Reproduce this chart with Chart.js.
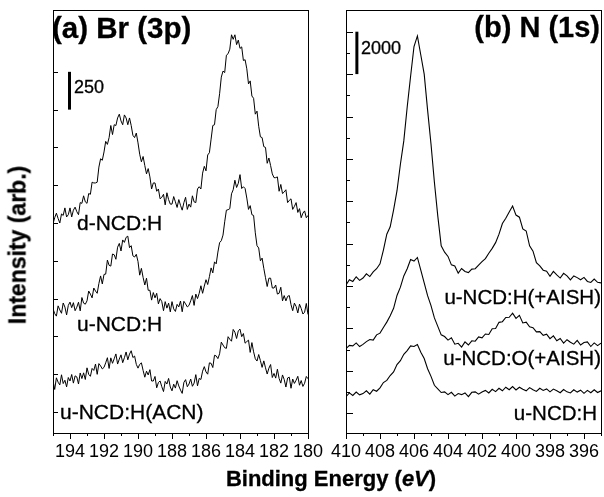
<!DOCTYPE html>
<html>
<head>
<meta charset="utf-8">
<script src="https://cdn.jsdelivr.net/npm/chart.js@4.4.1/dist/chart.umd.min.js"></script>
<style>
  html, body { margin: 0; padding: 0; background: #fff; }
  #wrap { position: relative; width: 604px; height: 497px; overflow: hidden;
          font-family: "Liberation Sans", Arial, sans-serif; color: #000; }
  canvas { position: absolute; top: 0; }
  #cA { left: 0; }
  #cB { left: 326px; }
  .lbl { position: absolute; white-space: nowrap; line-height: 1; -webkit-text-stroke: 0.3px #000; }
</style>
</head>
<body>
<div id="wrap">
  <canvas id="cA" width="326" height="497"></canvas>
  <canvas id="cB" width="278" height="497"></canvas>

  <div class="lbl" style="left:52px;top:13px;font-size:29.5px;font-weight:bold">(a) Br (3p)</div>
  <div class="lbl" style="right:4px;top:13px;font-size:29px;font-weight:bold">(b) N (1s)</div>
  <div class="lbl" style="left:74px;top:78px;font-size:18px">250</div>
  <div class="lbl" style="left:361px;top:39px;font-size:18px">2000</div>

  <div class="lbl" style="left:77px;top:212px;font-size:21px">d-NCD:H</div>
  <div class="lbl" style="left:77px;top:313px;font-size:21px">u-NCD:H</div>
  <div class="lbl" style="left:60px;top:401px;font-size:21px">u-NCD:H(ACN)</div>

  <div class="lbl" style="right:3px;top:287px;font-size:20.5px">u-NCD:H(+AISH)</div>
  <div class="lbl" style="right:3px;top:348px;font-size:20.5px">u-NCD:O(+AISH)</div>
  <div class="lbl" style="right:7px;top:403px;font-size:20.5px">u-NCD:H</div>

  <div class="lbl" style="left:331px;top:468px;font-size:22px;font-weight:bold;transform:translateX(-50%)">Binding Energy (<i>eV</i>)</div>
  <div class="lbl" style="left:18px;top:245px;font-size:23px;font-weight:bold;transform:translate(-50%,-50%) rotate(-90deg)">Intensity (arb.)</div>
</div>

<script>
/* Panel (a): Br 3p, binding energy grid (eV), 0.1 eV steps */
var energyA = [
  195,194.9,194.8,194.7,194.6,194.5,194.4,194.3,194.2,194.1,
  194,193.9,193.8,193.7,193.6,193.5,193.4,193.3,193.2,193.1,
  193,192.9,192.8,192.7,192.6,192.5,192.4,192.3,192.2,192.1,
  192,191.9,191.8,191.7,191.6,191.5,191.4,191.3,191.2,191.1,
  191,190.9,190.8,190.7,190.6,190.5,190.4,190.3,190.2,190.1,
  190,189.9,189.8,189.7,189.6,189.5,189.4,189.3,189.2,189.1,
  189,188.9,188.8,188.7,188.6,188.5,188.4,188.3,188.2,188.1,
  188,187.9,187.8,187.7,187.6,187.5,187.4,187.3,187.2,187.1,
  187,186.9,186.8,186.7,186.6,186.5,186.4,186.3,186.2,186.1,
  186,185.9,185.8,185.7,185.6,185.5,185.4,185.3,185.2,185.1,
  185,184.9,184.8,184.7,184.6,184.5,184.4,184.3,184.2,184.1,
  184,183.9,183.8,183.7,183.6,183.5,183.4,183.3,183.2,183.1,
  183,182.9,182.8,182.7,182.6,182.5,182.4,182.3,182.2,182.1,
  182,181.9,181.8,181.7,181.6,181.5,181.4,181.3,181.2,181.1,
  181,180.9,180.8,180.7,180.6,180.5,180.4,180.3,180.2,180.1,
  180];

/* Panel (a) spectra, counts with stacking offset */
var dNCD_H = [
  1245,1285,1315,1280,1250,1310,1300,1350,1290,1305,
  1350,1290,1335,1355,1325,1305,1385,1380,1430,1390,
  1380,1445,1440,1520,1515,1515,1520,1620,1675,1665,
  1720,1790,1770,1815,1895,1835,1900,1895,1945,1970,
  1925,1900,1965,1945,1900,1945,1895,1830,1815,1845,
  1780,1705,1655,1690,1630,1575,1610,1555,1475,1515,
  1515,1460,1475,1410,1420,1440,1370,1450,1405,1375,
  1375,1425,1390,1353,1405,1367,1335,1385,1420,1340,
  1375,1355,1430,1390,1385,1475,1490,1475,1580,1625,
  1595,1700,1715,1805,1895,1900,2000,2020,2105,2215,
  2255,2245,2360,2370,2400,2495,2465,2495,2430,2460,
  2405,2415,2325,2330,2270,2170,2190,2090,2075,1970,
  1990,1890,1820,1815,1755,1750,1645,1680,1630,1575,
  1550,1550,1555,1460,1505,1445,1455,1470,1385,1400,
  1410,1340,1360,1385,1320,1345,1285,1315,1330,1285,
  1300];
var uNCD_H_a = [
  683,651,634,702,675,653,721,694,642,705,
  727,690,723,670,693,726,669,757,720,713,
  735,800,780,755,820,800,785,850,900,847,
  910,912,1005,970,965,1045,1040,1010,1090,1115,
  1065,1138,1122,1155,1163,1087,1100,1033,1025,1043,
  995,905,950,890,840,885,805,805,740,790,
  755,785,715,750,730,670,730,687,720,662,
  730,682,665,712,695,734,663,732,715,695,
  705,735,770,705,780,750,785,835,785,833,
  875,843,895,953,920,993,980,1058,1120,1133,
  1170,1258,1335,1338,1345,1443,1470,1533,1485,1513,
  1570,1478,1490,1478,1415,1340,1365,1305,1300,1185,
  1100,1085,1000,1018,950,888,830,885,885,820,
  820,840,780,785,825,735,770,735,765,770,
  710,670,720,698,655,713,685,648,660,718,
  645];
var uNCD_H_ACN = [
  207,149,226,197,179,246,188,210,166,228,
  205,248,191,239,232,185,258,221,259,215,
  292,249,236,288,275,317,249,320,305,285,
  295,325,359,288,358,322,352,384,317,350,
  378,326,359,397,345,383,405,360,370,315,
  290,315,325,275,230,270,245,280,205,205,
  235,160,195,205,167,135,202,185,222,165,
  140,184,158,207,172,145,123,196,214,167,
  185,218,170,191,247,173,222,215,270,300,
  265,250,325,322,294,375,371,353,385,462,
  443,425,421,498,481,468,546,528,486,537,
  548,498,519,455,466,475,394,459,398,352,
  337,380,340,295,338,292,251,290,314,228,
  255,224,283,222,191,245,215,165,225,230,
  157,218,189,210,236,177,208,169,190,235,
  220];

/* Panel (b): N 1s, binding energy grid (eV), 0.2 eV steps */
var energyB = [410,409.8,409.6,409.4,409.2,409,408.8,408.6,408.4,408.2,408,407.8,407.6,407.4,407.2,
  407,406.8,406.6,406.4,406.2,406,405.8,405.6,405.4,405.2,405,404.8,404.6,404.4,404.2,
  404,403.8,403.6,403.4,403.2,403,402.8,402.6,402.4,402.2,402,401.8,401.6,401.4,401.2,
  401,400.8,400.6,400.4,400.2,400,399.8,399.6,399.4,399.2,399,398.8,398.6,398.4,398.2,
  398,397.8,397.6,397.4,397.2,397,396.8,396.6,396.4,396.2,396,395.8,395.6,395.4,395.2,395];

/* Panel (b) spectra */
var uNCD_H_AISH = [
  6050,6300,6220,6440,6270,6380,6580,6450,6670,6820,
  7050,7700,8450,8800,9600,10500,11750,12850,14450,15900,
  17300,17800,16900,16000,14300,12700,10900,9300,7900,7600,
  7400,7000,6950,6610,6830,6690,6640,6800,6820,6990,
  7150,7300,7550,7780,8050,8450,8950,9200,9500,9780,
  9350,9250,8700,8600,7900,7650,7100,6950,6750,6700,
  6460,6690,6530,6380,6600,6480,6290,6480,6400,6300,
  6410,6220,6170,6330,6180,6150];
var uNCD_O_AISH = [
  3050,3200,3180,3320,3150,3250,3380,3480,3450,3700,
  3780,4050,4300,4600,4950,5560,5950,6480,6820,7250,
  7180,7350,6750,6150,5550,5080,4500,4100,3700,3620,
  3450,3560,3260,3300,3120,3370,3220,3420,3400,3600,
  3560,3740,3720,3990,4000,4290,4320,4520,4530,4720,
  4480,4620,4260,4300,4080,4040,3840,3850,3680,3730,
  3520,3650,3420,3530,3310,3470,3350,3260,3440,3220,
  3340,3370,3150,3320,3190,3310];
var uNCD_H_b = [
  780,960,840,1000,870,930,1060,900,1110,1040,
  1200,1450,1550,1780,1950,2300,2480,2780,2960,3180,
  3150,3240,2880,2580,2100,1740,1320,1150,980,1010,
  880,990,810,930,880,960,790,990,1010,900,
  1000,1080,960,1130,1020,1180,1060,1230,1110,1260,
  1100,1230,1130,1060,1210,1110,1030,1180,1080,1150,
  1010,1140,1060,970,1120,1010,960,1110,1000,1090,
  940,1080,970,1110,980,1060];

/* Tick values */
var xTicksA = [180,181,182,183,184,185,186,187,188,189,190,191,192,193,194,195];
var xTicksB = [395,396,397,398,399,400,401,402,403,404,405,406,407,408,409,410];
var yTicksA = [0,250,500,750,1000,1250,1500,1750,2000,2250,2500];
var yTicksB = [0,1000,2000,3000,4000,5000,6000,7000,8000,9000,10000,11000,12000,13000,14000,15000,16000,17000,18000];

/* Frame, inward y ticks, outward x ticks and the scale bar */
var frameTicks = {
  id: 'frameTicks',
  afterDatasetsDraw: function(chart, args, opts) {
    var ctx = chart.ctx, a = chart.chartArea;
    var xs = chart.scales.x, ys = chart.scales.y;
    ctx.save();
    ctx.strokeStyle = '#000';
    ctx.lineWidth = 1;
    ctx.strokeRect(Math.round(a.left) + 0.5, Math.round(a.top) + 0.5,
                   Math.round(a.width), Math.round(a.height));
    ctx.beginPath();
    xs.ticks.forEach(function(t) {
      var px = Math.round(xs.getPixelForValue(t.value)) + 0.5;
      var len = t.value % 2 === 0 ? 6 : 3;
      ctx.moveTo(px, a.bottom);
      ctx.lineTo(px, a.bottom + len);
    });
    ys.ticks.forEach(function(t) {
      var py = Math.round(ys.getPixelForValue(t.value)) + 0.5;
      var len = t.value % opts.yMajor === 0 ? opts.yLong : opts.yShort;
      ctx.moveTo(a.left, py);
      ctx.lineTo(a.left + len, py);
    });
    ctx.stroke();
    var bx = xs.getPixelForValue(opts.bar.at);
    ctx.lineWidth = 3;
    ctx.beginPath();
    ctx.moveTo(bx, ys.getPixelForValue(opts.bar.from));
    ctx.lineTo(bx, ys.getPixelForValue(opts.bar.to));
    ctx.stroke();
    ctx.restore();
  }
};

function toPoints(xs, ys) {
  return xs.map(function(x, i) { return { x: x, y: ys[i] }; });
}

function makeChart(id, energy, series, cfg) {
  new Chart(document.getElementById(id), {
    type: 'line',
    data: {
      datasets: series.map(function(s) {
        return {
          data: toPoints(energy, s),
          borderColor: '#000',
          borderWidth: cfg.lineWidth,
          pointRadius: 0,
          tension: 0,
          fill: false
        };
      })
    },
    options: {
      responsive: false,
      animation: false,
      events: [],
      layout: { padding: { top: 10, right: cfg.padRight, left: 0, bottom: 0 } },
      plugins: {
        legend: { display: false },
        tooltip: { enabled: false },
        frameTicks: cfg.marks
      },
      scales: {
        x: {
          type: 'linear',
          reverse: true,
          min: cfg.xMin,
          max: cfg.xMax,
          grid: { display: false, drawTicks: false },
          border: { display: false },
          afterBuildTicks: function(s) { s.ticks = cfg.xTicks.map(function(v) { return { value: v }; }); },
          afterFit: function(s) { s.height = 64; },
          ticks: {
            autoSkip: false,
            maxRotation: 0,
            minRotation: 0,
            padding: 8,
            color: '#000',
            font: { family: "'Liberation Sans', Arial, sans-serif", size: 18 },
            callback: function(v) { return v % 2 === 0 ? String(v) : ''; }
          }
        },
        y: {
          type: 'linear',
          min: cfg.yMin,
          max: cfg.yMax,
          grid: { display: false, drawTicks: false },
          border: { display: false },
          ticks: { display: false },
          afterBuildTicks: function(s) { s.ticks = cfg.yTicks.map(function(v) { return { value: v }; }); },
          afterFit: function(s) { s.width = cfg.yWidth; }
        }
      }
    },
    plugins: [frameTicks]
  });
}

makeChart('cA', energyA, [dNCD_H, uNCD_H_a, uNCD_H_ACN], {
  xMin: 180, xMax: 195, yMin: -139, yMax: 2659,
  xTicks: xTicksA, yTicks: yTicksA, yWidth: 53, padRight: 18, lineWidth: 1,
  marks: { yMajor: 250, yLong: 5, yShort: 5, bar: { at: 194.03, from: 2000, to: 2250 } }
});

makeChart('cB', energyB, [uNCD_H_AISH, uNCD_O_AISH, uNCD_H_b], {
  xMin: 395, xMax: 410, yMin: -930, yMax: 19024,
  xTicks: xTicksB, yTicks: yTicksB, yWidth: 20, padRight: 3, lineWidth: 1.1,
  marks: { yMajor: 2000, yLong: 7, yShort: 4, bar: { at: 409.36, from: 16000, to: 18000 } }
});
</script>
</body>
</html>
